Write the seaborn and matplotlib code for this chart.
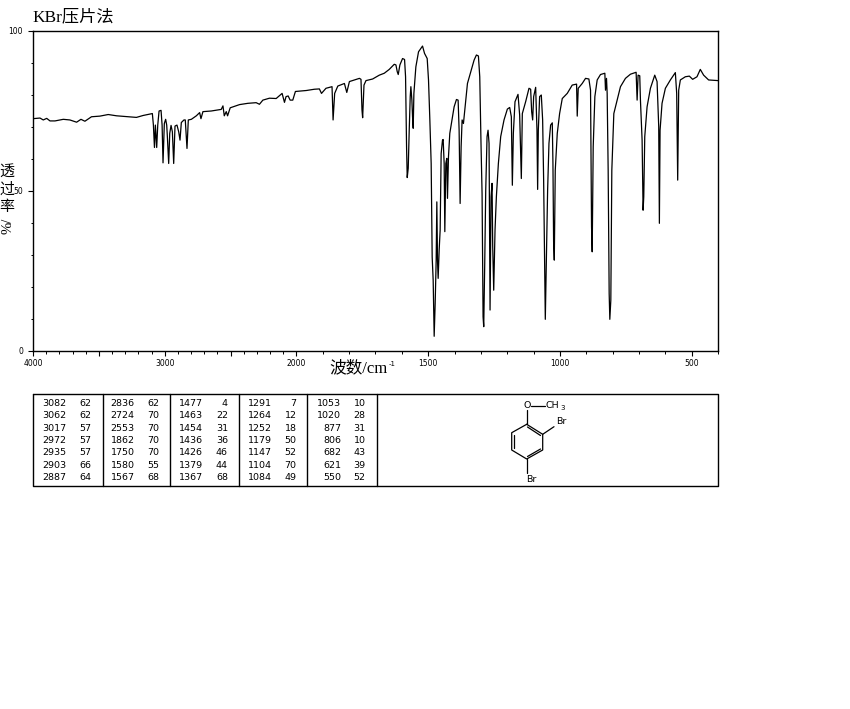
import numpy as np
import pandas as pd
import matplotlib
matplotlib.use('Agg')
import matplotlib.pyplot as plt
import seaborn as sns

# spectrum: wavenumber (cm-1) and transmittance (%)
wn_high = [4000, 3947, 3922, 3896, 3871, 3833, 3770, 3720, 3669, 3636, 3606, 3556, 3492, 3429, 3366, 3278,
           3215, 3164, 3094, 3086, 3078, 3071, 3061, 3053, 3043, 3028, 3020, 3013, 3003, 2993, 2985, 2980,
           2970, 2962, 2952, 2942, 2932, 2922, 2907, 2894, 2884, 2874, 2854, 2844, 2831, 2821, 2798, 2760,
           2735, 2725, 2710, 2647, 2571, 2558, 2548, 2533, 2523, 2503, 2432, 2369, 2306, 2281, 2255, 2205,
           2154, 2109, 2091, 2079, 2063, 2048, 2028, 2008, 1963, 1932, 1913, 1905, 1888, 1865, 1861, 1855,
           1843, 1818, 1809, 1799, 1761]
t_high = [72.6, 72.8, 72.2, 72.7, 71.9, 71.9, 72.4, 72.2, 71.5, 72.4, 71.8, 73.2, 73.4, 73.9, 73.5, 73.2,
          73.0, 73.6, 74.2, 70.6, 63.6, 70.6, 63.6, 70.6, 75.0, 75.2, 70.6, 58.8, 71.1, 72.4, 70.6, 67.0,
          58.6, 68.0, 70.5, 68.5, 58.6, 70.3, 70.6, 68.5, 65.9, 71.4, 72.2, 72.2, 63.3, 72.2, 72.4, 73.5,
          74.5, 72.6, 74.8, 75.0, 75.5, 76.6, 73.5, 74.8, 73.5, 76.0, 77.0, 77.4, 77.6, 77.1, 78.4, 79.0,
          78.9, 80.5, 77.7, 79.5, 79.7, 78.4, 78.4, 81.1, 81.4, 81.8, 81.9, 80.5, 82.1, 82.6, 72.2, 80.5,
          82.8, 83.6, 80.8, 84.2, 85.2]

wn_mid = [1755.1, 1751.3, 1748.8, 1743.7, 1736.1, 1710.9, 1685.6, 1666.7, 1647.8, 1628.8, 1622.5, 1617.5,
          1613.7, 1607.4, 1597.3, 1589.7, 1585.9, 1582.1, 1579.6, 1575.8, 1572, 1568.2, 1565.7, 1561.9,
          1559.4, 1556.9, 1554.3, 1546.8, 1536.7, 1521.5, 1513.9, 1503.8, 1498.8, 1493.7, 1488.7, 1484.9,
          1481.1, 1477.3, 1473.5, 1469.7, 1467.2, 1464.7, 1462.2, 1458.4, 1454.6, 1450.8, 1445.7, 1443.2,
          1439.4, 1436.9, 1433.1, 1429.3, 1426.8, 1423, 1418, 1407.9, 1401.6, 1392.7, 1386.4, 1382.6, 1378.8,
          1375, 1371.3, 1366.2, 1357.4, 1351, 1338.4, 1325.8, 1317, 1309.4, 1304.3, 1299.3, 1295.5, 1291.7,
          1289.2, 1285.4, 1281.6, 1276.6, 1272.8, 1269, 1265.2, 1261.4, 1257.6, 1255.1, 1251.3, 1246.3,
          1241.2, 1233.6, 1224.8, 1212.2, 1199.5, 1190.7, 1184.4, 1180.6, 1176.8, 1170.5, 1159.1, 1152.8,
          1146.5, 1142.7, 1130.1]
t_mid = [84.9, 75.3, 72.9, 83.1, 84.5, 85.0, 86.2, 86.8, 88.0, 89.6, 89.4, 87.3,
         86.4, 89.4, 91.4, 91.1, 85.7, 63.8, 54.2, 57.1, 69.0, 79.5, 82.6, 78.4,
         73.2, 69.6, 80.5, 88.8, 93.5, 95.3, 93.0, 91.4, 84.7, 72.2, 58.6, 29.4,
         22.1, 4.6, 14.9, 28.4, 46.6, 28.4, 22.7, 31.5, 37.8, 61.7, 65.9, 66.1,
         58.6, 37.3, 58.6, 60.2, 47.7, 60.7, 68.0, 73.2, 76.3, 78.6, 78.4, 69.0, 46.1,
         63.8, 72.2, 71.1, 78.4, 83.6, 87.3, 90.9, 92.5, 92.2, 85.7, 63.8, 49.2, 10.7,
         7.6, 27.4, 50.3, 67.0, 69.0, 64.9, 12.8, 48.2, 52.4, 32.6, 19.0, 37.8,
         48.2, 58.6, 67.0, 72.2, 75.6, 76.1, 73.2, 51.8, 68.0, 77.9, 80.2, 73.7,
         53.9, 74.2, 77.9]

wn_low = [1117.4, 1111.1, 1107.3, 1103.5, 1099.7, 1092.1, 1087.1, 1084.6, 1082, 1077, 1070.7, 1065.6, 1061.8,
          1058, 1055.5, 1051.7, 1046.7, 1041.6, 1035.3, 1029, 1026.5, 1024, 1021.4, 1017.7, 1010.1, 1001.2,
          991.1, 972.2, 953.3, 936.8, 934.3, 930.5, 915.4, 902.8, 890.1, 883.8, 880, 877.5, 873.7, 867.4,
          858.6, 846, 829.5, 827, 823.2, 820.7, 816.9, 813.1, 810.6, 806.8, 803, 795.4, 782.8, 770.2, 751.3,
          732.3, 710.8, 707, 703.3, 697, 694.4, 688.1, 684.3, 681.8, 678, 669.2, 656.5, 640.1, 631.3, 625,
          622.5, 619.9, 612.4, 599.7, 580.8, 561.9, 556.8, 553, 549.2, 542.9, 524, 508.8, 496.2, 479.8,
          467.2, 454.6, 435.6, 400]
t_low = [82.1, 81.8, 74.8, 72.2, 79.5, 82.4, 69.0, 50.5, 69.0, 79.5, 80.0, 72.2, 53.4,
         27.4, 9.9, 27.4, 50.3, 64.9, 70.6, 71.3, 58.6, 34.1, 28.4, 56.5, 68.0, 74.2,
         78.9, 80.5, 83.1, 83.4, 73.4, 82.1, 83.6, 85.2, 85.0, 81.5, 38.8, 31.0, 63.8, 79.5,
         84.7, 86.4, 86.8, 81.5, 85.2, 80.5, 56.5, 18.0, 9.9, 15.9, 56.5, 74.2, 78.4, 82.6, 85.2,
         86.5, 87.1, 78.4, 86.2, 86.0, 78.4, 65.9, 44.0, 48.2, 67.0, 76.3, 82.1, 86.2, 84.2, 70.1,
         39.9, 69.0, 77.4, 82.1, 84.7, 87.0, 80.5, 53.4, 81.5, 84.7, 85.7, 85.9, 84.9, 85.7,
         88.0, 86.2, 84.7, 84.5]

# peak table, one list per column of the box
peak_wn = [[3082, 3062, 3017, 2972, 2935, 2903, 2887],
           [2836, 2724, 2553, 1862, 1750, 1580, 1567],
           [1477, 1463, 1454, 1436, 1426, 1379, 1367],
           [1291, 1264, 1252, 1179, 1147, 1104, 1084],
           [1053, 1020, 877, 806, 682, 621, 550]]
peak_t = [[62, 62, 57, 57, 57, 66, 64],
          [62, 70, 70, 70, 70, 55, 68],
          [4, 22, 31, 36, 46, 44, 68],
          [7, 12, 18, 50, 52, 70, 49],
          [10, 28, 31, 10, 43, 39, 52]]

x_labels = [4000, 3000, 2000, 1500, 1000, 500]
y_labels = [0, 50, 100]

df = pd.DataFrame({'wn': wn_high + wn_mid + wn_low, 't': t_high + t_mid + t_low})

sns.set_style('white')
cjk = ['Liberation Serif', 'Noto Sans CJK SC', 'DejaVu Sans']
plt.rcParams['font.family'] = ['DejaVu Sans', 'Noto Sans CJK SC']
plt.rcParams['text.color'] = 'black'
plt.rcParams['xtick.color'] = 'black'
plt.rcParams['ytick.color'] = 'black'


# the instrument halves the scale above 2000 cm-1
def fwd(v):
    v = np.asarray(v, dtype=float)
    return np.where(v > 2000, 2000 + (v - 2000) / 2, v)


def inv(v):
    v = np.asarray(v, dtype=float)
    return np.where(v > 2000, 2000 + (v - 2000) * 2, v)


fig = plt.figure(figsize=(8.5, 7.09), dpi=100)
ax = fig.add_axes([33 / 850, 1 - 351 / 709, 685 / 850, 320 / 709])
sns.lineplot(data=df, x='wn', y='t', ax=ax, color='black', lw=0.9, sort=False, estimator=None)
ax.set_xscale('function', functions=(fwd, inv))
ax.set_xlim(4000, 400)
ax.set_ylim(0, 100)
ax.set_xlabel('')
ax.set_ylabel('')
for s in ax.spines.values():
    s.set_color('black')
    s.set_linewidth(1)

ax.set_xticks(np.arange(4000, 0, -500))
ax.set_xticklabels([str(v) if v in x_labels else '' for v in np.arange(4000, 0, -500)], fontsize=5.5)
ax.set_xticks(np.arange(4000, 399, -100), minor=True)
ax.set_yticks(y_labels)
ax.set_yticklabels([str(v) for v in y_labels], fontsize=5.5)
ax.set_yticks(np.arange(0, 101, 10), minor=True)
ax.tick_params(axis='x', which='major', length=3.6, width=0.8, pad=2.2, bottom=True)
ax.tick_params(axis='y', which='major', length=3.6, width=0.8, pad=3.6, left=True)
ax.tick_params(axis='both', which='minor', length=1.8, width=0.7, bottom=True, left=True)

# overlay in pixel coordinates for the labels, peak box and structure
ov = fig.add_axes([0, 0, 1, 1])
ov.set_xlim(0, 850)
ov.set_ylim(709, 0)
ov.axis('off')
ov.patch.set_alpha(0)

ov.text(32, 17, 'KBr压片法', fontsize=12.4, family=cjk, va='center', ha='left', fontweight='light')
ov.text(329, 368, '波数/cm', fontsize=12, family=cjk, va='center', ha='left', fontweight='light')
ov.text(389, 364, '-1', fontsize=5, va='center', ha='left')
for ch, yy in zip('透过率', [172, 190, 207]):
    ov.text(7, yy, ch, fontsize=10.8, family=cjk, va='center', ha='center', fontweight='light')
ov.text(8, 226, '%/', fontsize=10.5, family=cjk, va='center', ha='center', rotation=90)

# peak box
ov.plot([33, 718, 718, 33, 33], [394, 394, 486, 486, 394], color='black', lw=1)
for xd in [103, 170, 239, 307, 377]:
    ov.plot([xd, xd], [394, 486], color='black', lw=1)
row_y = [403.3, 415.7, 428.3, 440.3, 452.7, 465.3, 477.7]
col_wn = [66, 134.5, 203, 271.7, 341]
col_t = [91, 159.7, 228, 296.7, 365.7]
for c in range(5):
    for r in range(7):
        ov.text(col_wn[c], row_y[r], str(peak_wn[c][r]), fontsize=6.8, ha='right', va='center')
        ov.text(col_t[c], row_y[r], str(peak_t[c][r]), fontsize=6.8, ha='right', va='center')

# 2,4-dibromoanisole drawing
ring_x = [526.7, 542.7, 542.7, 526.7, 511.7, 511.7, 526.7]
ring_y = [424.3, 434.3, 450, 459, 450, 432.7, 424.3]
ov.plot(ring_x, ring_y, color='black', lw=0.9)
ov.plot([527.5, 540.5], [427, 435.5], color='black', lw=0.9)
ov.plot([540.5, 527.5], [449, 456.5], color='black', lw=0.9)
ov.plot([514, 514], [435, 448], color='black', lw=0.9)
ov.plot([527, 527], [424, 410], color='black', lw=0.9)
ov.plot([531, 545], [405.7, 405.7], color='black', lw=0.9)
ov.plot([542.7, 554], [434.3, 426.7], color='black', lw=0.9)
ov.plot([526.7, 526.7], [459, 473], color='black', lw=0.9)
ov.text(527.5, 405.5, 'O', fontsize=6.8, ha='center', va='center')
ov.text(546, 406, 'CH', fontsize=6.8, ha='left', va='center')
ov.text(560.5, 407.5, '3', fontsize=5, ha='left', va='center')
ov.text(556, 421.5, 'Br', fontsize=6.8, ha='left', va='center')
ov.text(526, 479, 'Br', fontsize=6.8, ha='left', va='center')

fig.savefig('out.png', dpi=100, facecolor='white')
